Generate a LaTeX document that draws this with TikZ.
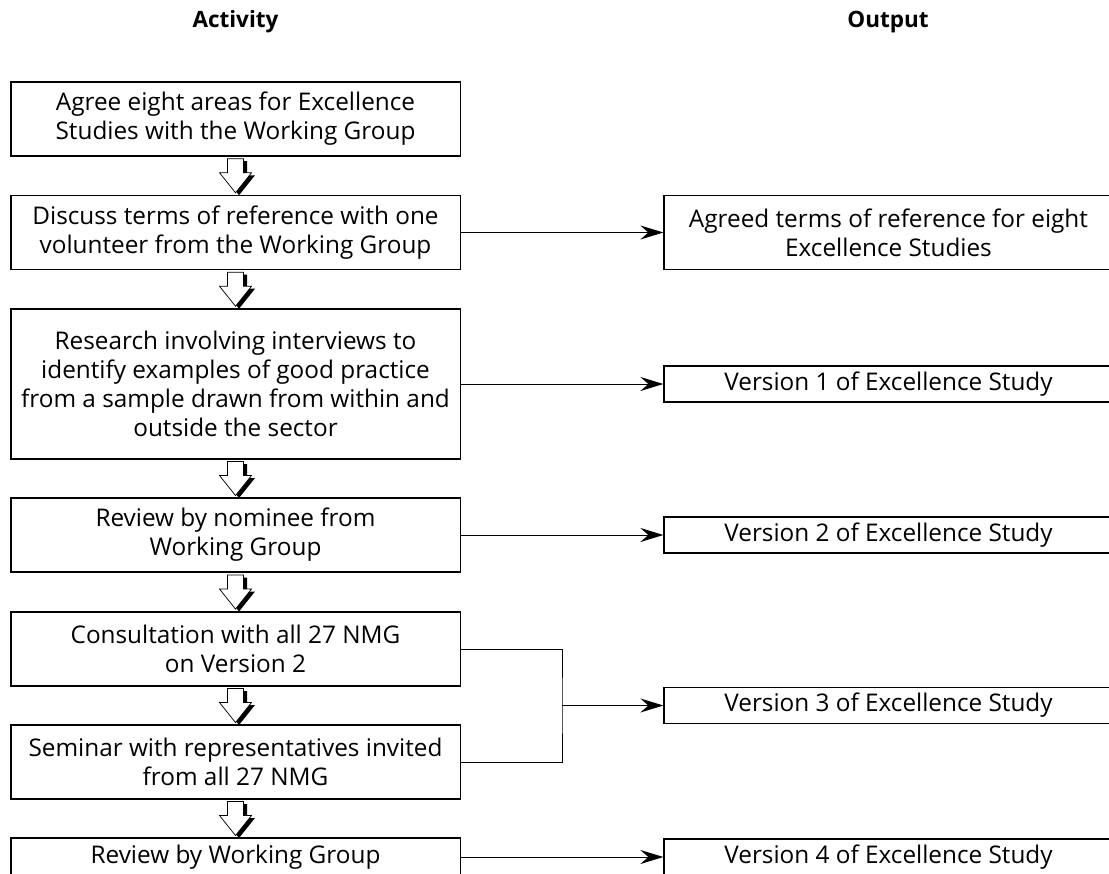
\documentclass[tikz,border=0pt]{standalone}
\usepackage{fontspec}
\setmainfont{Open Sans}
\usepackage{tikz}
\usetikzlibrary{positioning}
\usetikzlibrary{calc}
\usetikzlibrary{arrows.meta}

\tikzset{
  actbox/.style={draw, line width=0.8pt, align=center, minimum width=11.225cm,
    minimum height=1.85cm, inner sep=2pt, font=\fontsize{17.3}{20.6}\selectfont},
  outbox/.style={actbox, minimum width=11.225cm},
  head/.style={font=\fontsize{16}{20}\selectfont\bfseries},
  outarr/.style={line width=0.7pt, -{Stealth[length=5.75mm, width=3.5mm, inset=2mm]}}
}

% hollow arrow with a dark shadow, from one box down to the next
\newcommand{\fatarrow}[2]{%
  \coordinate (fa) at ($(#1.south)!0.5!(#2.north)$);
  \fill[black] ([shift={(3.5,2.5)}]fa) ++(-8,-17) -- ++(0,14) -- ++(-8,0) -- ++(16,20)
    -- ++(16,-20) -- ++(-8,0) -- ++(0,-14) -- cycle;
  \filldraw[fill=white, draw=black, line width=0.5pt] (fa) ++(-8,-17) -- ++(0,14)
    -- ++(-8,0) -- ++(16,20) -- ++(16,-20) -- ++(-8,0) -- ++(0,-14) -- cycle;
}

\begin{document}
\begin{tikzpicture}[x=0.025cm, y=-0.025cm]
    \useasboundingbox (0,0) rectangle (1109,873);

    \node[head] (hact) at (235.5,22) {Activity};
    \node[head] (hout) at (888,22) {Output};

    % activities
    \node[actbox] (a1) at (235.5,119) {Agree eight areas for Excellence\\Studies with the Working Group};
    \node[actbox] (a2) at (235.5,232.5) {Discuss terms of reference with one\\volunteer from the Working Group};
    \node[actbox, minimum height=3.75cm] (a3) at (235.5,384) {Research involving interviews to\\identify examples of good practice\\from a sample drawn from within and\\outside the sector};
    \node[actbox] (a4) at (235.5,535) {Review by nominee from\\Working Group};
    \node[actbox] (a5) at (235.5,649) {Consultation with all 27 NMG\\on Version 2};
    \node[actbox] (a6) at (235.5,762) {Seminar with representatives invited\\from all 27 NMG};
    \node[actbox, minimum height=0.95cm] (a7) at (235.5,857) {Review by Working Group};

    % outputs
    \node[outbox] (o1) at (888.5,232.5) {Agreed terms of reference for eight\\Excellence Studies};
    \node[outbox, minimum height=0.9cm] (o2) at (888.5,384) {Version 1 of Excellence Study};
    \node[outbox, minimum height=0.9cm] (o3) at (888.5,535) {Version 2 of Excellence Study};
    \node[outbox, minimum height=0.9cm] (o4) at (888.5,705.5) {Version 3 of Excellence Study};
    \node[outbox, minimum height=0.9cm] (o5) at (888.5,857) {Version 4 of Excellence Study};

    \fatarrow{a1}{a2}
    \fatarrow{a2}{a3}
    \fatarrow{a3}{a4}
    \fatarrow{a4}{a5}
    \fatarrow{a5}{a6}
    \fatarrow{a6}{a7}

    \draw[outarr] (a2.east) -- (o1.west);
    \draw[outarr] (a3.east) -- (o2.west);
    \draw[outarr] (a4.east) -- (o3.west);
    \coordinate (join) at (562,705.5);
    \draw[line width=0.7pt] (a5.east) -| (join) |- (a6.east);
    \draw[outarr] (join) -- (o4.west);
    \draw[outarr] (a7.east) -- (o5.west);
\end{tikzpicture}
\end{document}
